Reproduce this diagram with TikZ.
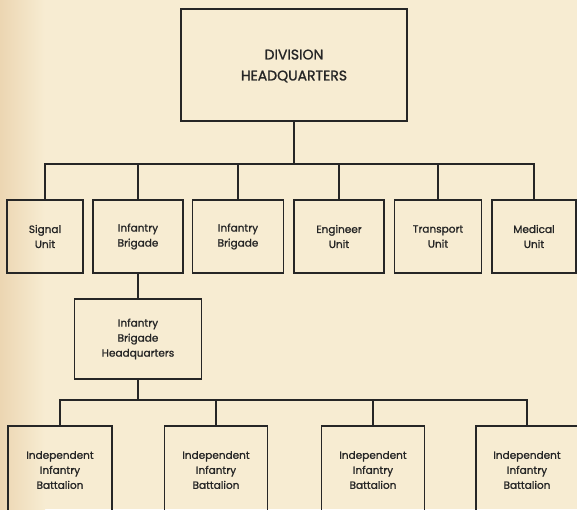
\documentclass[tikz,border=0pt]{standalone}
\usepackage{fontspec}
\setmainfont{Poppins}
\newfontfamily\chartfont{Poppins}[FakeBold=1.2]
\begin{document}
\begin{tikzpicture}[x=1pt,y=-1pt,
  ln/.style={draw=black!85, line width=1.3pt},
  box/.style={ln, rectangle, align=center, inner sep=0pt, font=\chartfont\fontsize{10.5}{15}\selectfont, text=black!85},
  bigbox/.style={box, font=\chartfont\fontsize{14}{21}\selectfont},
  wire/.style={draw=black!85, line width=1.2pt}]
\useasboundingbox (0,0) rectangle (577,509);
\definecolor{paper}{RGB}{247,236,210}
\definecolor{paperdark}{RGB}{236,214,178}
\fill[paper] (0,0) rectangle (577,509);
\shade[left color=paperdark, right color=paper] (0,0) rectangle (45,509);
\clip (0,0) rectangle (577,509);
% top
\node[bigbox, minimum width=226pt, minimum height=112pt, text depth=-3pt] (dhq) at (294,65) {DIVISION\\HEADQUARTERS};
% second row
\node[box, minimum width=76pt, minimum height=73pt] (sig) at (45,236.5) {Signal\\Unit};
\node[box, minimum width=90pt, minimum height=73pt] (ib1) at (138,236.5) {Infantry\\Brigade};
\node[box, minimum width=91pt, minimum height=73pt] (ib2) at (238,236.5) {Infantry\\Brigade};
\node[box, minimum width=90pt, minimum height=73pt] (eng) at (339,236.5) {Engineer\\Unit};
\node[box, minimum width=87pt, minimum height=73pt] (tra) at (438,236.5) {Transport\\Unit};
\node[box, minimum width=84pt, minimum height=73pt] (med) at (534,236.5) {Medical\\Unit};
\coordinate (bus1) at (292,164);
\draw[wire] (dhq.south) -- (dhq.south |- bus1);
\draw[wire] (sig.north) -- (sig.north |- bus1) -- (med.north |- bus1) -- (med.north);
\foreach \n in {ib1,ib2,eng,tra} \draw[wire] (\n.north) -- (\n.north |- bus1);
% brigade HQ
\node[box, minimum width=127pt, minimum height=80pt] (bhq) at (138,339) {Infantry\\Brigade\\Headquarters};
\draw[wire] (ib1.south) -- (bhq.north);
% battalions
\node[box, minimum width=104pt, minimum height=88pt] (bt1) at (60,470) {Independent\\Infantry\\Battalion};
\node[box, minimum width=103pt, minimum height=88pt] (bt2) at (216,470) {Independent\\Infantry\\Battalion};
\node[box, minimum width=103pt, minimum height=88pt] (bt3) at (373,470) {Independent\\Infantry\\Battalion};
\node[box, minimum width=102pt, minimum height=88pt] (bt4) at (527,470) {Independent\\Infantry\\Battalion};
\coordinate (bus2) at (138,400);
\draw[wire] (bhq.south) -- (bus2);
\draw[wire] (bt1.north) -- (bt1.north |- bus2) -- (bt4.north |- bus2) -- (bt4.north);
\foreach \n in {bt2,bt3} \draw[wire] (\n.north) -- (\n.north |- bus2);
\end{tikzpicture}
\end{document}
